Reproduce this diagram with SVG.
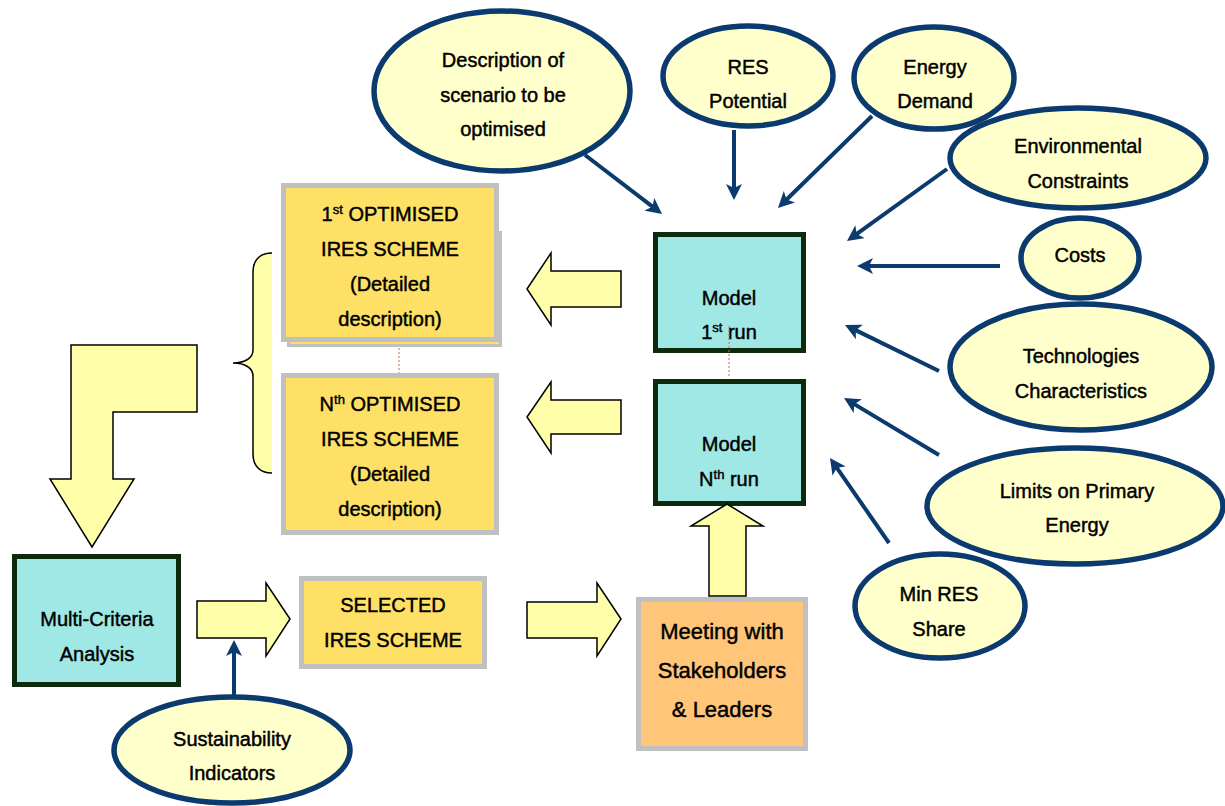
<svg xmlns="http://www.w3.org/2000/svg" width="1225" height="806" viewBox="0 0 1225 806">
<style>
text{font-family:"Liberation Sans",Arial,sans-serif;font-size:20px;fill:#000;stroke:#000;stroke-width:0.45;text-anchor:middle}
.big{font-size:22px}
.sup{font-size:13px}
.ell{fill:#ffffcc;stroke:#0b3a6e;stroke-width:5.5}
.model{fill:#a0e8e6;stroke:#0d2a0d;stroke-width:5}
.ybox{fill:#ffe066;stroke:#c0c0c0;stroke-width:5}
.obox{fill:#ffc67a;stroke:#c0c0c0;stroke-width:5}
.line{stroke:#0b3a6e;stroke-width:4;fill:none;marker-end:url(#ah)}
.blk{fill:#ffffaa;stroke:#000;stroke-width:1.5;stroke-linejoin:miter}
.dot{stroke:#c07050;stroke-width:1;stroke-dasharray:2 2;fill:none}
</style>
<defs>
<marker id="ah" markerUnits="userSpaceOnUse" markerWidth="16" markerHeight="16" refX="6" refY="8" orient="auto">
<path d="M0,0 L16,8 L0,16 L4,8 z" fill="#0b3a6e"/>
</marker>
</defs>
<rect width="1225" height="806" fill="#fff"/>

<g id="desc"><ellipse class="ell" cx="502" cy="91" rx="128" ry="80"/>
<text x="503" y="67">Description of</text><text x="503" y="102">scenario to be</text><text x="503" y="136">optimised</text></g>
<g id="res"><ellipse class="ell" cx="748" cy="76" rx="85" ry="50"/>
<text x="748" y="74">RES</text><text x="748" y="108">Potential</text></g>
<g id="demand"><ellipse class="ell" cx="934" cy="78" rx="80" ry="51"/>
<text x="935" y="74">Energy</text><text x="935" y="108">Demand</text></g>
<g id="env"><ellipse class="ell" cx="1078" cy="158" rx="128" ry="50"/>
<text x="1078" y="153">Environmental</text><text x="1078" y="188">Constraints</text></g>
<g id="costs"><ellipse class="ell" cx="1080" cy="258" rx="59" ry="40"/>
<text x="1080" y="262">Costs</text></g>
<g id="tech"><ellipse class="ell" cx="1081" cy="367" rx="131" ry="63"/>
<text x="1081" y="363">Technologies</text><text x="1081" y="398">Characteristics</text></g>
<g id="limits"><ellipse class="ell" cx="1075" cy="506" rx="148" ry="58"/>
<text x="1077" y="498">Limits on Primary</text><text x="1077" y="532">Energy</text></g>
<g id="minres"><ellipse class="ell" cx="940" cy="606" rx="85" ry="52"/>
<text x="939" y="601">Min RES</text><text x="939" y="636">Share</text></g>
<g id="sust"><ellipse class="ell" cx="232" cy="750" rx="118" ry="53"/>
<text x="232" y="746">Sustainability</text><text x="232" y="780">Indicators</text></g>

<g id="model1"><rect class="model" x="655.5" y="234.5" width="148" height="116"/>
<text x="729" y="305">Model</text>
<text x="729" y="339">1<tspan class="sup" dy="-7">st</tspan><tspan dy="7"> run</tspan></text></g>
<g id="modelN"><rect class="model" x="655.5" y="381.5" width="148" height="122"/>
<text x="729" y="451">Model</text>
<text x="729" y="486">N<tspan class="sup" dy="-7">th</tspan><tspan dy="7"> run</tspan></text></g>
<g id="mca"><rect class="model" x="14.5" y="556.5" width="164" height="128"/>
<text x="97" y="626">Multi-Criteria</text><text x="97" y="661">Analysis</text></g>

<g id="opt1">
<rect x="288.5" y="232.5" width="212" height="113" fill="#ffe066" stroke="#c0c0c0" stroke-width="3"/>
<rect class="ybox" x="283.5" y="185.5" width="213" height="154"/>
<text x="390" y="221">1<tspan class="sup" dy="-7">st</tspan><tspan dy="7"> OPTIMISED</tspan></text>
<text x="390" y="256">IRES SCHEME</text><text x="390" y="291">(Detailed</text><text x="390" y="326">description)</text></g>
<g id="optN"><rect class="ybox" x="283.5" y="375.5" width="213" height="157"/>
<text x="390" y="411">N<tspan class="sup" dy="-7">th</tspan><tspan dy="7"> OPTIMISED</tspan></text>
<text x="390" y="446">IRES SCHEME</text><text x="390" y="481">(Detailed</text><text x="390" y="516">description)</text></g>
<g id="selected"><rect class="ybox" x="301.5" y="578.5" width="183" height="88"/>
<text x="393" y="612">SELECTED</text><text x="393" y="647">IRES SCHEME</text></g>
<g id="meeting"><rect class="obox" x="638.5" y="599.5" width="167" height="149"/>
<text class="big" x="722" y="639">Meeting with</text><text class="big" x="722" y="678">Stakeholders</text><text class="big" x="722" y="717">&amp; Leaders</text></g>

<g id="brace">
<path d="M272,253 C260,253 253,260 253,272 L253,350 C253,358 245,363 233,363 C245,363 253,368 253,376 L253,454 C253,466 260,473 272,473 Z" fill="#ffffaa" stroke="none"/>
<path d="M272,253 C260,253 253,260 253,272 L253,350 C253,358 245,363 233,363 C245,363 253,368 253,376 L253,454 C253,466 260,473 272,473" fill="none" stroke="#000" stroke-width="1.5"/>
</g>

<g id="connectors">
<line class="line" x1="585" y1="155" x2="654.1" y2="207.9"/>
<line class="line" x1="734" y1="130" x2="734" y2="190"/>
<line class="line" x1="872" y1="116" x2="785.1" y2="201"/>
<line class="line" x1="947" y1="169" x2="855.1" y2="235.2"/>
<line class="line" x1="1000" y1="266" x2="867" y2="266"/>
<line class="line" x1="939" y1="371" x2="854" y2="329.4"/>
<line class="line" x1="939" y1="455" x2="852.6" y2="403.1"/>
<line class="line" x1="889" y1="543" x2="835.7" y2="466.2"/>
<line class="line" x1="234" y1="695" x2="234" y2="650"/>
<path class="dot" d="M729,326 V376"/>
<path class="dot" d="M399,348 V373"/>
<polygon class="blk" points="527,289 551,253 551,271 621,271 621,307 551,307 551,325"/>
<polygon class="blk" points="527,417 551,382 551,400 621,400 621,434 551,434 551,453"/>
<polygon class="blk" points="290,619 266,583 266,601 197,601 197,638 266,638 266,656"/>
<polygon class="blk" points="621,619 597,583 597,602 527,602 527,638 597,638 597,656"/>
<polygon class="blk" points="727,504 691,526 709,526 709,596 746,596 746,526 763,526"/>
<polygon class="blk" points="71,345 197,345 197,412 113,412 113,479 134,479 92,547 50,479 71,479"/>
</g>
</svg>
